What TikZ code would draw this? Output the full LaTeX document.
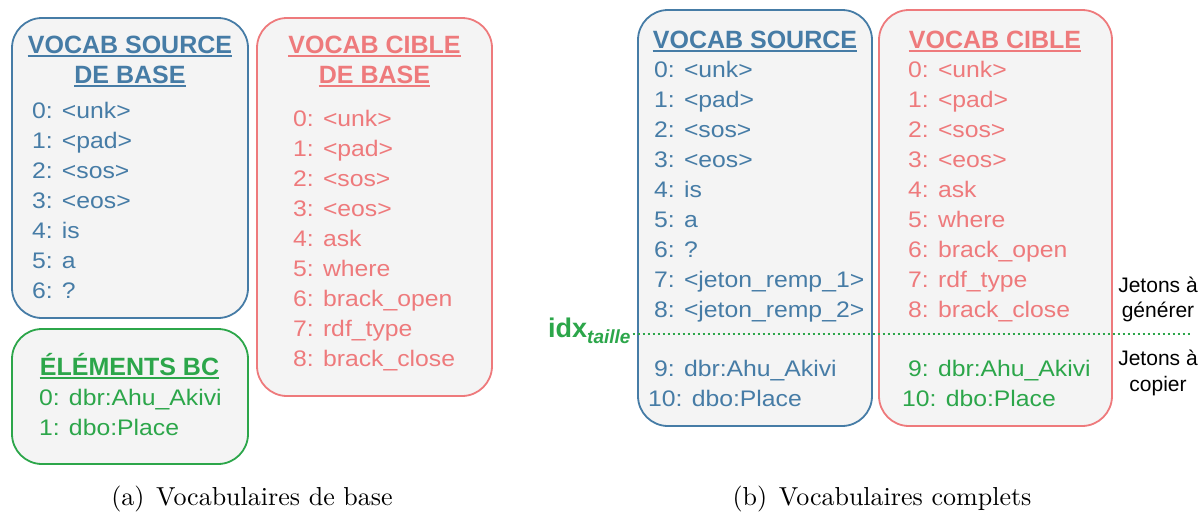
\documentclass[tikz,border=0pt]{standalone}
\usepackage{fontspec}
\newfontfamily\lsans{Liberation Sans}
\newfontfamily\itemsans[FakeStretch=1.1]{Liberation Sans}
\newfontfamily\capfont{lmroman10-regular}[Extension=.otf]

\definecolor{vblue}{RGB}{70,124,166}
\definecolor{vred}{RGB}{238,122,124}
\definecolor{vgreen}{RGB}{44,166,74}
\definecolor{vfill}{RGB}{244,244,244}

\tikzset{
  vbox/.style={draw, line width=1.8pt, fill=vfill, rounded corners=30pt, inner sep=0pt},
  head/.style={font=\lsans\bfseries\fontsize{25}{25}\selectfont, inner sep=0pt, anchor=base},
  item/.style={font=\itemsans\fontsize{22.5}{22.5}\selectfont, inner sep=0pt, anchor=base west},
  side/.style={font=\lsans\fontsize{21}{21}\selectfont, inner sep=0pt, anchor=base},
  capt/.style={font=\capfont\fontsize{26}{26}\selectfont, inner sep=0pt, anchor=base},
  uline/.style={line width=2pt},
}

\begin{document}
\begin{tikzpicture}[x=1pt, y=-1pt]
\useasboundingbox (0,0) rectangle (1200,512);

% ---------- (a) base vocabularies ----------
\node[vbox, draw=vblue, minimum width=236pt, minimum height=300pt] (srcA) at (130,168) {};
\node[vbox, draw=vred, minimum width=235pt, minimum height=378pt] (tgtA) at (374.5,207) {};
\node[vbox, draw=vgreen, minimum width=236pt, minimum height=135pt] (kbA) at (130,396.5) {};

\node[head, text=vblue] (srcAh1) at (130,53) {VOCAB SOURCE};
\node[head, text=vblue] (srcAh2) at (130,83) {DE BASE};
\node[head, text=vred] (tgtAh1) at (374.5,53) {VOCAB CIBLE};
\node[head, text=vred] (tgtAh2) at (374.5,83) {DE BASE};
\node[head, text=vgreen] (kbAh) at (129.5,375) {ÉLÉMENTS BC};

\foreach \h/\c in {srcAh1/vblue, srcAh2/vblue, tgtAh1/vred, tgtAh2/vred, kbAh/vgreen}
  \draw[uline, \c] ([yshift=-3pt]\h.base west) -- ([yshift=-3pt]\h.base east);

\foreach \t [count=\i from 0] in {<unk>, <pad>, <sos>, <eos>, is, a, ?}
  \node[item, text=vblue] (srcA-\i) at (32,118+30*\i) {\i: \t};

\foreach \t [count=\i from 0] in {<unk>, <pad>, <sos>, <eos>, ask, where, brack\_open, rdf\_type, brack\_close}
  \node[item, text=vred] (tgtA-\i) at (293,126+30*\i) {\i: \t};

\node[item, text=vgreen] (kbA-0) at (39,405) {0: dbr:Ahu\_Akivi};
\node[item, text=vgreen] (kbA-1) at (39,435) {1: dbo:Place};

\node[capt] (captA) at (252,505) {(a)\hspace{0.45em}Vocabulaires de base};

% ---------- (b) complete vocabularies ----------
\node[vbox, draw=vblue, minimum width=234pt, minimum height=416pt] (srcB) at (755,218) {};
\node[vbox, draw=vred, minimum width=233pt, minimum height=416pt] (tgtB) at (995.5,218) {};

\node[head, text=vblue] (srcBh) at (755,48) {VOCAB SOURCE};
\node[head, text=vred] (tgtBh) at (995,48) {VOCAB CIBLE};
\foreach \h/\c in {srcBh/vblue, tgtBh/vred}
  \draw[uline, \c] ([yshift=-3pt]\h.base west) -- ([yshift=-3pt]\h.base east);

\foreach \t [count=\i from 0] in {<unk>, <pad>, <sos>, <eos>, is, a, ?, <jeton\_remp\_1>, <jeton\_remp\_2>}
  \node[item, text=vblue] (srcB-\i) at (654,77+30*\i) {\i: \t};
\node[item, text=vblue] (srcB-9) at (654,376) {9: dbr:Ahu\_Akivi};
\node[item, text=vblue] (srcB-10) at (648,406) {10: dbo:Place};

\foreach \t [count=\i from 0] in {<unk>, <pad>, <sos>, <eos>, ask, where, brack\_open, rdf\_type, brack\_close}
  \node[item, text=vred] (tgtB-\i) at (908,77+30*\i) {\i: \t};
\node[item, text=vgreen] (tgtB-9) at (908,376) {9: dbr:Ahu\_Akivi};
\node[item, text=vgreen] (tgtB-10) at (902,406) {10: dbo:Place};

% size threshold separating generated and copied tokens
\node[inner sep=0pt, anchor=base west, text=vgreen] (idx) at (548,337)
  {\lsans\bfseries\fontsize{27}{27}\selectfont idx\raisebox{-6pt}{\fontsize{19}{19}\selectfont\itshape taille}};
\coordinate (lineEnd) at (1190,334);
\draw[vgreen, line width=2pt, dash pattern=on 2pt off 3pt] ([xshift=2pt]idx.east |- lineEnd) -- (lineEnd);

\node[side] (genA) at (1158,292) {Jetons à};
\node[side] (genB) at (1158,317) {générer};
\node[side] (copA) at (1158,365) {Jetons à};
\node[side] (copB) at (1158,391) {copier};

\node[capt] (captB) at (882,505) {(b)\hspace{0.45em}Vocabulaires complets};
\end{tikzpicture}
\end{document}
